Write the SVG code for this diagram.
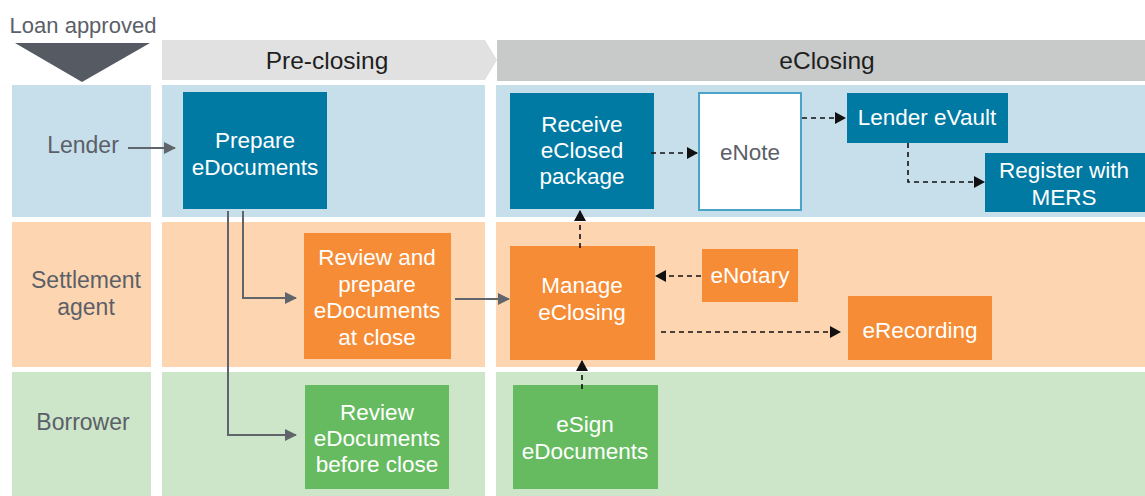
<svg xmlns="http://www.w3.org/2000/svg" width="1145" height="496" viewBox="0 0 1145 496">
<style>
text{font-family:"Liberation Sans",Arial,sans-serif;font-size:22.5px;text-anchor:middle}
.lbl{fill:#5b6068;font-size:23px}
.wt{fill:#ffffff}
.hd{fill:#1e1e1e;font-size:24.5px}
.teal{fill:#007aa3}
.org{fill:#f68c35}
.grn{fill:#66bb60}
.solid{fill:none;stroke:#60656c;stroke-width:2}
.dash{fill:none;stroke:#111;stroke-width:1.6;stroke-dasharray:5 4}
</style>
<defs>
<marker id="ag" markerUnits="userSpaceOnUse" markerWidth="12" markerHeight="12" refX="11" refY="6" orient="auto"><path d="M0,0 L12,6 L0,12 Z" fill="#60656c"/></marker>
<marker id="ab" markerUnits="userSpaceOnUse" markerWidth="11" markerHeight="12" refX="10" refY="6" orient="auto"><path d="M0,0 L11,6 L0,12 Z" fill="#111"/></marker>
</defs>
<rect width="1145" height="496" fill="#ffffff"/>
<g id="header">
<text class="lbl" x="83" y="33" style="font-size:22px">Loan approved</text>
<polygon points="15,43 150,43 82,82" fill="#555a63"/>
<polygon points="162,40 485,40 497,60 485,80 162,80" fill="#e1e1e1"/>
<text class="hd" x="327" y="69">Pre-closing</text>
<rect x="497" y="40" width="648" height="41" fill="#c8c9c9"/>
<text class="hd" x="827" y="69">eClosing</text>
</g>
<g id="lanes">
<rect x="12" y="85" width="139" height="132" fill="#c7dfeb"/>
<rect x="162" y="85" width="323" height="132" fill="#c7dfeb"/>
<rect x="496" y="85" width="649" height="132" fill="#c7dfeb"/>
<rect x="12" y="222" width="139" height="145" fill="#fdd6b1"/>
<rect x="162" y="222" width="323" height="145" fill="#fdd6b1"/>
<rect x="496" y="222" width="649" height="145" fill="#fdd6b1"/>
<rect x="12" y="372" width="139" height="124" fill="#cde5c9"/>
<rect x="162" y="372" width="323" height="124" fill="#cde5c9"/>
<rect x="496" y="372" width="649" height="124" fill="#cde5c9"/>
<text class="lbl" x="83" y="153">Lender</text>
<text class="lbl" x="86" y="288">Settlement</text>
<text class="lbl" x="86" y="315">agent</text>
<text class="lbl" x="83" y="430">Borrower</text>
</g>
<g id="prepare-edocs">
<rect class="teal" x="183" y="92" width="144" height="117"/>
<text class="wt" x="255" y="148">Prepare</text>
<text class="wt" x="255" y="175">eDocuments</text>
</g>
<g id="review-prepare">
<rect class="org" x="304" y="233" width="147" height="126"/>
<text class="wt" x="377" y="265">Review and</text>
<text class="wt" x="377" y="292">prepare</text>
<text class="wt" x="377" y="318">eDocuments</text>
<text class="wt" x="377" y="345">at close</text>
</g>
<g id="review-before">
<rect class="grn" x="305" y="385" width="144" height="104"/>
<text class="wt" x="377" y="420">Review</text>
<text class="wt" x="377" y="446">eDocuments</text>
<text class="wt" x="377" y="472">before close</text>
</g>
<g id="receive-package">
<rect class="teal" x="510" y="93" width="144" height="116"/>
<text class="wt" x="582" y="132">Receive</text>
<text class="wt" x="582" y="158">eClosed</text>
<text class="wt" x="582" y="184">package</text>
</g>
<g id="enote">
<rect x="699" y="93" width="102" height="117" fill="#ffffff" stroke="#4aa3c8" stroke-width="2"/>
<text class="lbl" x="750" y="160" style="font-size:22.5px">eNote</text>
</g>
<g id="lender-evault">
<rect class="teal" x="847" y="93" width="161" height="50"/>
<text class="wt" x="927" y="125">Lender eVault</text>
</g>
<g id="register-mers">
<rect class="teal" x="985" y="153" width="160" height="59"/>
<text class="wt" x="1064" y="178">Register with</text>
<text class="wt" x="1064" y="205">MERS</text>
</g>
<g id="manage-eclosing">
<rect class="org" x="510" y="246" width="145" height="114"/>
<text class="wt" x="582" y="293">Manage</text>
<text class="wt" x="582" y="320">eClosing</text>
</g>
<g id="enotary">
<rect class="org" x="702" y="249" width="96" height="53"/>
<text class="wt" x="750" y="283">eNotary</text>
</g>
<g id="erecording">
<rect class="org" x="848" y="296" width="144" height="64"/>
<text class="wt" x="920" y="338">eRecording</text>
</g>
<g id="esign">
<rect class="grn" x="513" y="385" width="145" height="104"/>
<text class="wt" x="585" y="432">eSign</text>
<text class="wt" x="585" y="459">eDocuments</text>
</g>
<g id="connectors">
<path class="solid" d="M128,148 H175" marker-end="url(#ag)"/>
<path class="solid" d="M243,211 V298 H296" marker-end="url(#ag)"/>
<path class="solid" d="M228,211 V435 H296" marker-end="url(#ag)"/>
<path class="solid" d="M455,299 H509" marker-end="url(#ag)"/>
<path class="dash" d="M651,153 H697" marker-end="url(#ab)"/>
<path class="dash" d="M802,118 H845" marker-end="url(#ab)"/>
<path class="dash" d="M908,143 V182 H984" marker-end="url(#ab)"/>
<path class="dash" d="M580,248 V211" marker-end="url(#ab)"/>
<path class="dash" d="M701,276 H656" marker-end="url(#ab)"/>
<path class="dash" d="M661,332 H840" marker-end="url(#ab)"/>
<path class="dash" d="M582,389 V361" marker-end="url(#ab)"/>
</g>
</svg>
